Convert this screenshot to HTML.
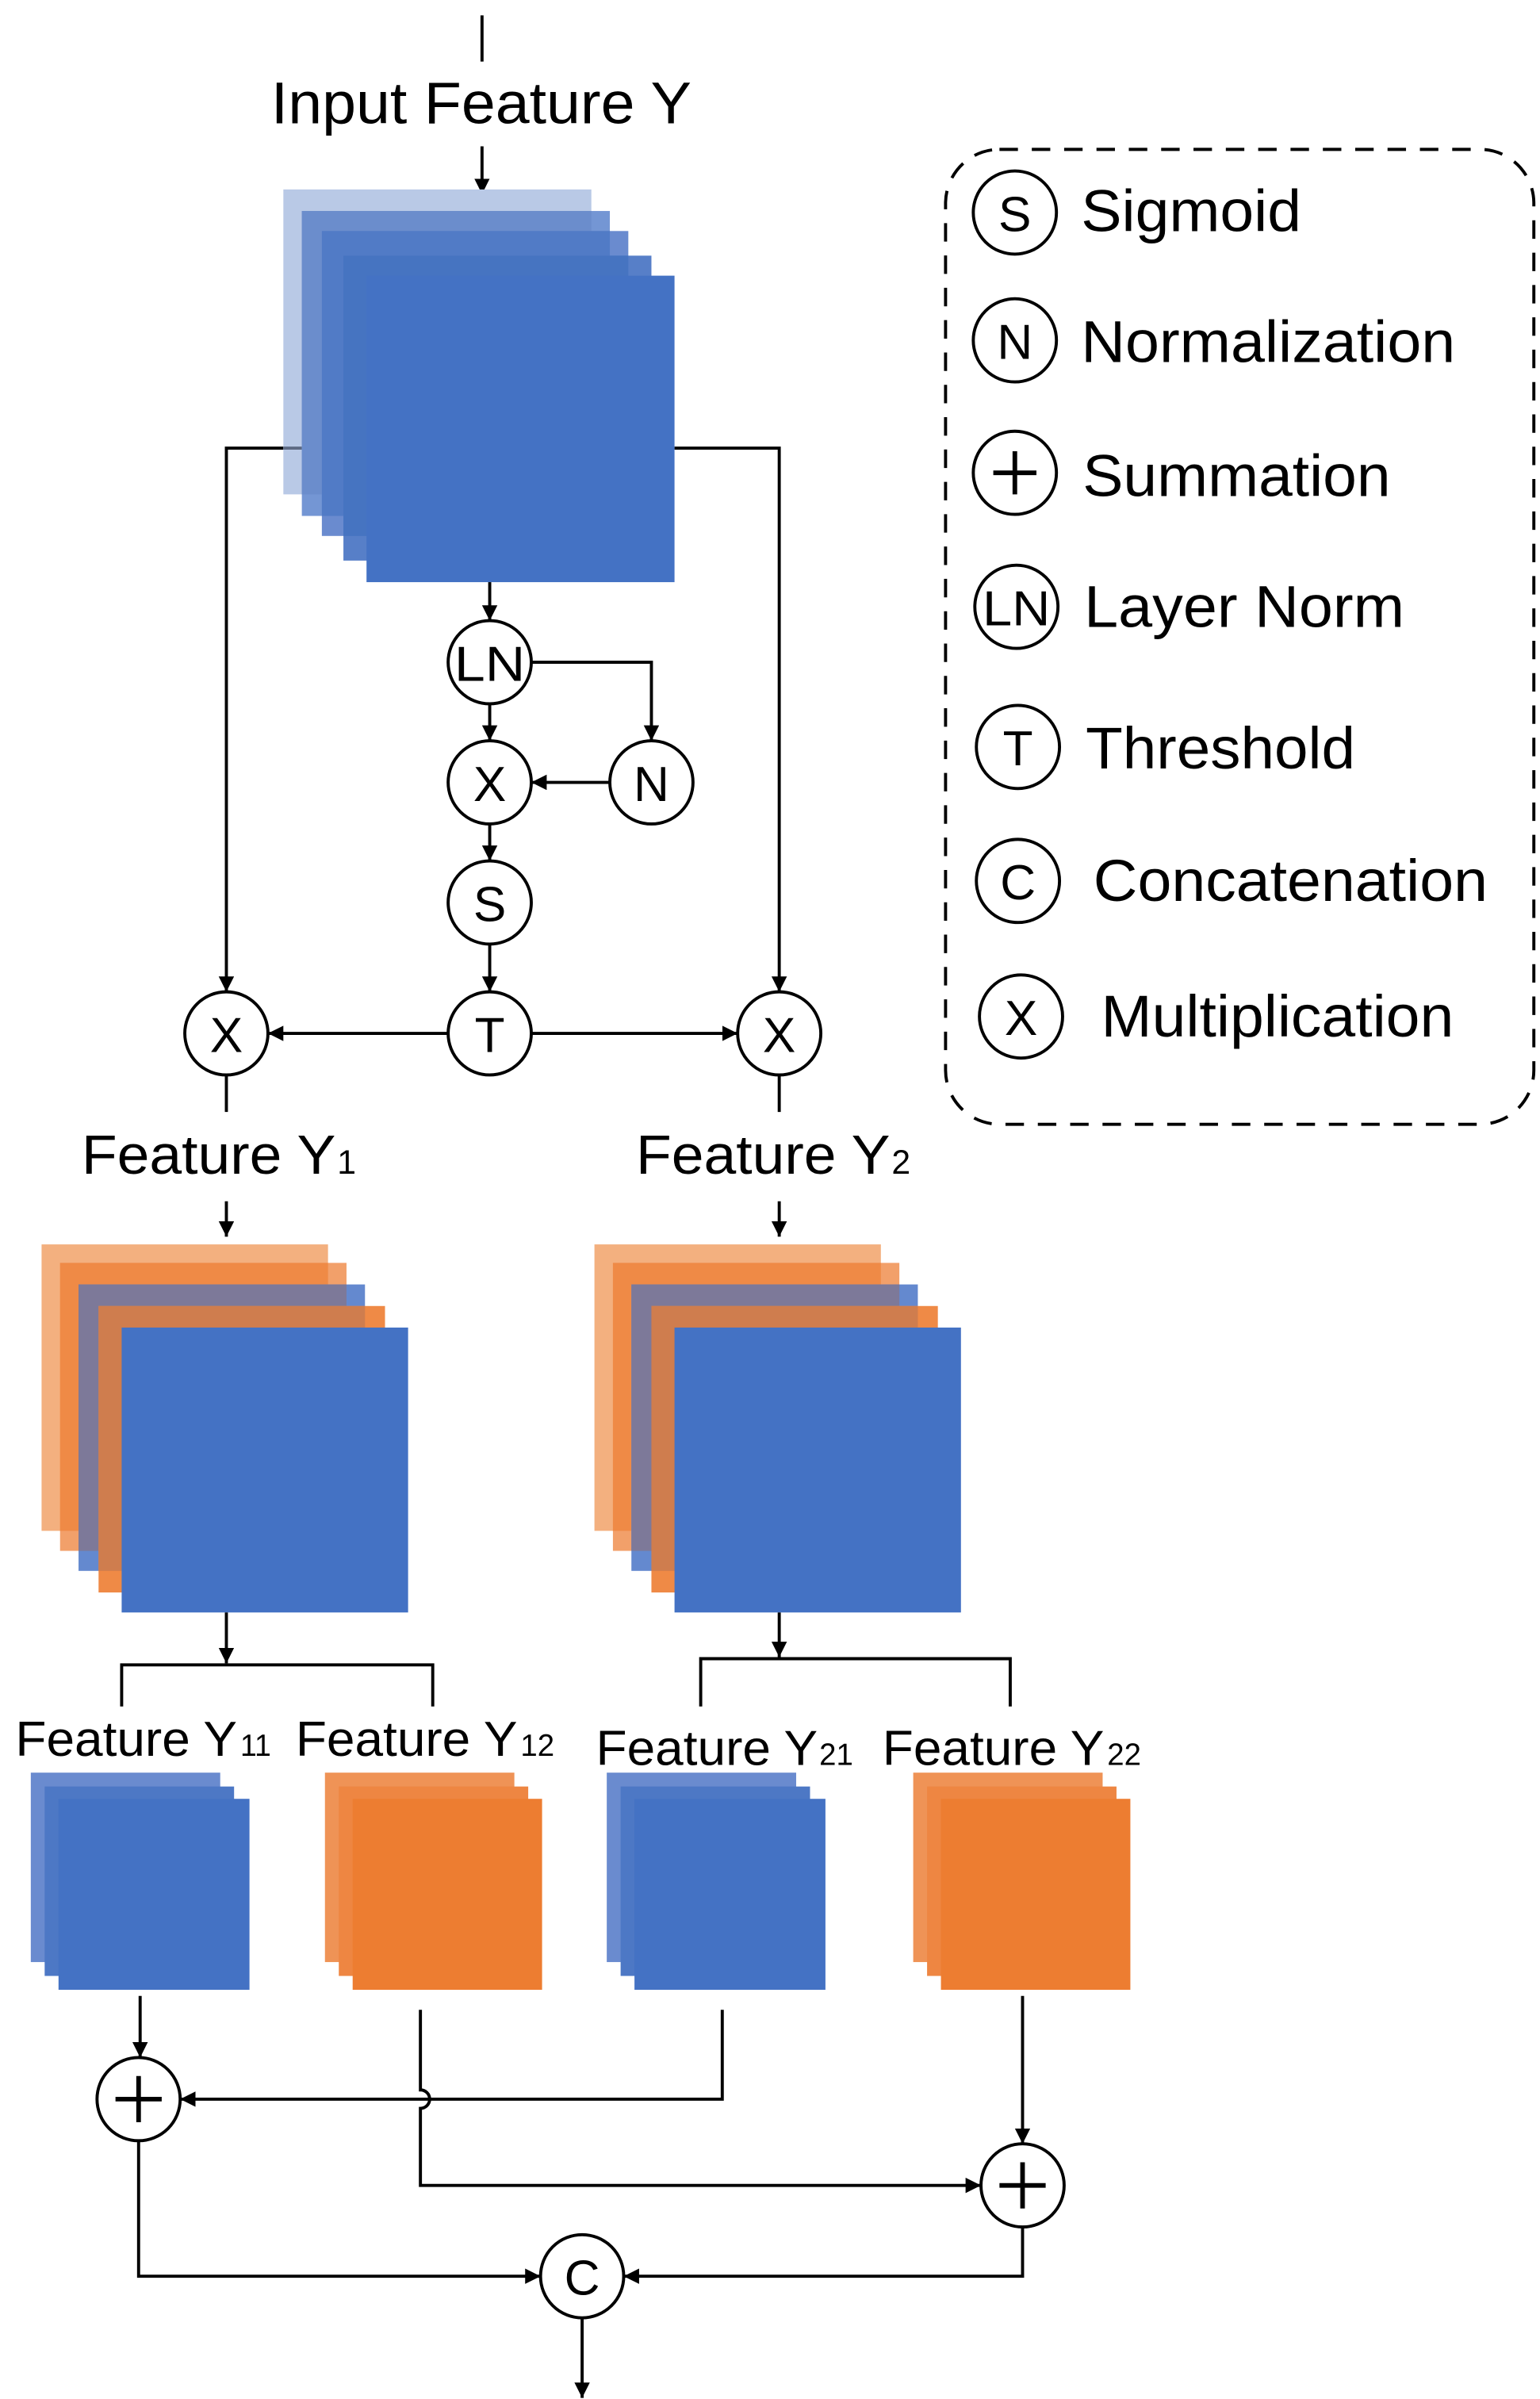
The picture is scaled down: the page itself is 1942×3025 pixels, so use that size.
<!DOCTYPE html>
<html><head><meta charset="utf-8"><style>
html,body{margin:0;padding:0;background:#fff;}
svg{display:block;}
text{font-family:"Liberation Sans",Arial,sans-serif;fill:#000;}
</style></head><body>
<svg width="1942" height="3025" viewBox="0 0 1000 1557.7" preserveAspectRatio="none" xmlns="http://www.w3.org/2000/svg">
<defs>
<marker id="a" markerUnits="userSpaceOnUse" markerWidth="12" markerHeight="12" refX="10" refY="5" orient="auto">
<path d="M0,0 L10,5 L0,10 z" fill="#000"/>
</marker>
</defs>
<g stroke="#000" stroke-width="2" fill="none">
<line x1="313" y1="10" x2="313" y2="40"/>
<line x1="313" y1="95" x2="313" y2="126" marker-end="url(#a)"/>
</g>
<text x="176" y="80" font-size="38" textLength="273" lengthAdjust="spacingAndGlyphs">Input Feature Y</text>

<g stroke="#000" stroke-width="2" fill="none">
<polyline points="184,291 147,291 147,644" marker-end="url(#a)"/>
<polyline points="438,291 506,291 506,644" marker-end="url(#a)"/>
</g>
<rect x="184" y="123" width="200" height="198" fill="#b9c9e6"/>
<line x1="184" y1="291" x2="196" y2="291" stroke="#5d6a84" stroke-width="2"/>
<rect x="196" y="137" width="200" height="198" fill="#7496d4"/>
<rect x="196" y="137" width="188" height="184" fill="#6b8dcc"/>
<rect x="209" y="150" width="199" height="198" fill="#6a8bcf"/>
<rect x="209" y="150" width="187" height="185" fill="#517bc6"/>
<rect x="223" y="166" width="200" height="198" fill="#577fc8"/>
<rect x="223" y="166" width="185" height="182" fill="#4674c1"/>
<rect x="238" y="179" width="200" height="199" fill="#4472c4"/>

<g stroke="#000" stroke-width="2" fill="none">
<line x1="318" y1="378" x2="318" y2="403" marker-end="url(#a)"/>
<line x1="318" y1="457" x2="318" y2="481" marker-end="url(#a)"/>
<polyline points="345,430 423,430 423,481" marker-end="url(#a)"/>
<line x1="396" y1="508" x2="345" y2="508" marker-end="url(#a)"/>
<line x1="318" y1="535" x2="318" y2="559" marker-end="url(#a)"/>
<line x1="318" y1="613" x2="318" y2="644" marker-end="url(#a)"/>
<line x1="291" y1="671" x2="174" y2="671" marker-end="url(#a)"/>
<line x1="345" y1="671" x2="479" y2="671" marker-end="url(#a)"/>
<line x1="147" y1="698" x2="147" y2="722"/>
<line x1="506" y1="698" x2="506" y2="722"/>
<line x1="147" y1="780" x2="147" y2="803" marker-end="url(#a)"/>
<line x1="506" y1="780" x2="506" y2="803" marker-end="url(#a)"/>
<circle cx="318" cy="430" r="27" fill="#fff"/>
<circle cx="318" cy="508" r="27" fill="#fff"/>
<circle cx="423" cy="508" r="27" fill="#fff"/>
<circle cx="318" cy="586" r="27" fill="#fff"/>
<circle cx="318" cy="671" r="27" fill="#fff"/>
<circle cx="147" cy="671" r="27" fill="#fff"/>
<circle cx="506" cy="671" r="27" fill="#fff"/>
</g>
<g font-size="32" text-anchor="middle">
<text x="318" y="442" textLength="46" lengthAdjust="spacingAndGlyphs">LN</text>
<text x="318" y="520">X</text>
<text x="423" y="520">N</text>
<text x="318" y="598">S</text>
<text x="318" y="683">T</text>
<text x="147" y="683">X</text>
<text x="506" y="683">X</text>
</g>
<text x="53" y="762" font-size="36" textLength="165" lengthAdjust="spacingAndGlyphs">Feature Y</text>
<text x="219" y="762" font-size="22">1</text>
<text x="413" y="762" font-size="36" textLength="165" lengthAdjust="spacingAndGlyphs">Feature Y</text>
<text x="579" y="762" font-size="22">2</text>

<g id="ms">
<rect x="27" y="808" width="186" height="186" fill="#f3b07f"/>
<rect x="39" y="820" width="186" height="187" fill="#f2a06a"/>
<rect x="39" y="820" width="174" height="174" fill="#ef8a46"/>
<rect x="51" y="834" width="186" height="186" fill="#6489cf"/>
<rect x="51" y="834" width="174" height="173" fill="#7d7999"/>
<rect x="64" y="848" width="186" height="186" fill="#ef8a46"/>
<rect x="64" y="848" width="173" height="172" fill="#cf7d4e"/>
<rect x="79" y="862" width="186" height="185" fill="#4472c4"/>
</g>
<use href="#ms" x="359"/>

<g stroke="#000" stroke-width="2" fill="none">
<line x1="147" y1="1047" x2="147" y2="1080" marker-end="url(#a)"/>
<polyline points="79,1108 79,1081 281,1081 281,1108"/>
<line x1="506" y1="1047" x2="506" y2="1076" marker-end="url(#a)"/>
<polyline points="455,1108 455,1077 656,1077 656,1108"/>
</g>
<g font-size="32">
<text x="10" y="1140" textLength="144" lengthAdjust="spacingAndGlyphs">Feature Y</text>
<text x="156" y="1140" font-size="20" textLength="20" lengthAdjust="spacingAndGlyphs">11</text>
<text x="192" y="1140" textLength="144" lengthAdjust="spacingAndGlyphs">Feature Y</text>
<text x="338" y="1140" font-size="20" textLength="22" lengthAdjust="spacingAndGlyphs">12</text>
<text x="387" y="1146" textLength="144" lengthAdjust="spacingAndGlyphs">Feature Y</text>
<text x="532" y="1146" font-size="20" textLength="22" lengthAdjust="spacingAndGlyphs">21</text>
<text x="573" y="1146" textLength="144" lengthAdjust="spacingAndGlyphs">Feature Y</text>
<text x="719" y="1146" font-size="20" textLength="22" lengthAdjust="spacingAndGlyphs">22</text>
</g>

<g id="sb">
<rect x="20" y="1151" width="123" height="123" fill="#6a8bcf"/>
<rect x="29" y="1160" width="123" height="123" fill="#4d78c5"/>
<rect x="38" y="1168" width="124" height="124" fill="#4472c4"/>
</g>
<use href="#sb" x="374"/>
<g id="so">
<rect x="211" y="1151" width="123" height="123" fill="#ef9356"/>
<rect x="220" y="1160" width="123" height="123" fill="#ee8642"/>
<rect x="229" y="1168" width="123" height="124" fill="#ed7d31"/>
</g>
<use href="#so" x="382"/>

<g stroke="#000" stroke-width="2" fill="none">
<line x1="91" y1="1296" x2="91" y2="1336" marker-end="url(#a)"/>
<polyline points="469,1305 469,1363 117,1363" marker-end="url(#a)"/>
<path d="M273,1305 L273,1357 A6,6 0 0 1 273,1369 L273,1419 L637,1419" marker-end="url(#a)"/>
<line x1="664" y1="1296" x2="664" y2="1392" marker-end="url(#a)"/>
<polyline points="90,1390 90,1478 351,1478" marker-end="url(#a)"/>
<polyline points="664,1446 664,1478 405,1478" marker-end="url(#a)"/>
<line x1="378" y1="1505" x2="378" y2="1557" marker-end="url(#a)"/>
<circle cx="90" cy="1363" r="27" fill="#fff"/>
<circle cx="664" cy="1419" r="27" fill="#fff"/>
<circle cx="378" cy="1478" r="27" fill="#fff"/>
<path d="M75,1363 H105 M90,1348 V1378 M649,1419 H679 M664,1404 V1434" stroke-width="3"/>
</g>
<text x="378" y="1490" font-size="32" text-anchor="middle">C</text>

<rect x="614" y="97" width="382" height="633" rx="35" fill="none" stroke="#000" stroke-width="2" stroke-dasharray="12,9"/>
<g stroke="#000" stroke-width="2" fill="none">
<circle cx="659" cy="138" r="27"/>
<circle cx="659" cy="221" r="27"/>
<circle cx="659" cy="307" r="27"/>
<circle cx="660" cy="394" r="27"/>
<circle cx="661" cy="485" r="27"/>
<circle cx="661" cy="572" r="27"/>
<circle cx="663" cy="660" r="27"/>
<path d="M645,307 H673 M659,293 V321" stroke-width="3"/>
</g>
<g font-size="32" text-anchor="middle">
<text x="659" y="150">S</text>
<text x="659" y="233">N</text>
<text x="660" y="406" textLength="44" lengthAdjust="spacingAndGlyphs">LN</text>
<text x="661" y="497">T</text>
<text x="661" y="584">C</text>
<text x="663" y="672">X</text>
</g>
<g font-size="38">
<text x="702" y="150" textLength="143" lengthAdjust="spacingAndGlyphs">Sigmoid</text>
<text x="702" y="235" textLength="243" lengthAdjust="spacingAndGlyphs">Normalization</text>
<text x="703" y="322" textLength="200" lengthAdjust="spacingAndGlyphs">Summation</text>
<text x="704" y="407" textLength="208" lengthAdjust="spacingAndGlyphs">Layer Norm</text>
<text x="705" y="499" textLength="175" lengthAdjust="spacingAndGlyphs">Threshold</text>
<text x="710" y="585" textLength="256" lengthAdjust="spacingAndGlyphs">Concatenation</text>
<text x="715" y="673" textLength="229" lengthAdjust="spacingAndGlyphs">Multiplication</text>
</g>
</svg>
</body></html>
